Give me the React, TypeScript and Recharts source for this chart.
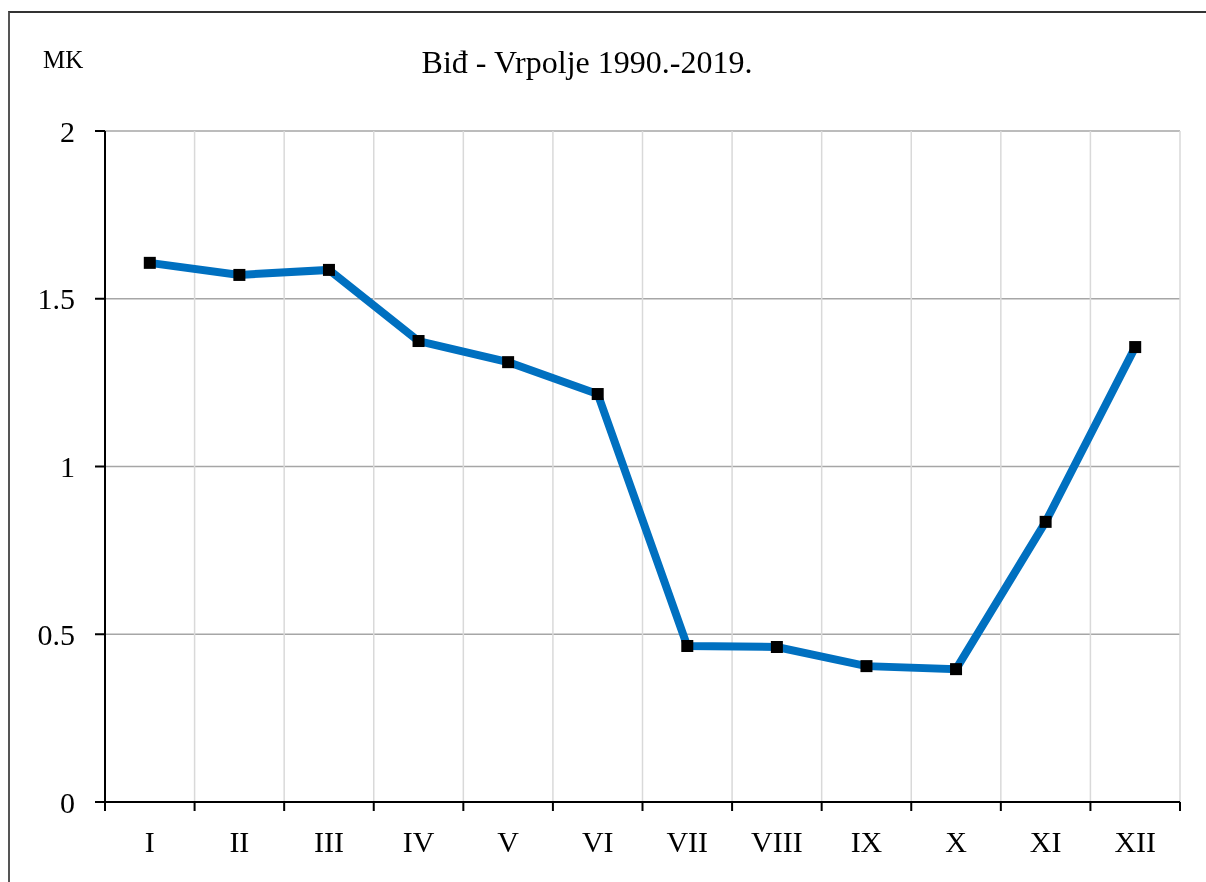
import { CartesianGrid, Line, LineChart, XAxis, YAxis } from "recharts";

const months = ["I", "II", "III", "IV", "V", "VI", "VII", "VIII", "IX", "X", "XI", "XII"];
const values = [1.607, 1.571, 1.586, 1.374, 1.311, 1.216, 0.465, 0.462, 0.405, 0.396, 0.835, 1.356];
const yTicks = [0, 0.5, 1, 1.5, 2];

// months sit in the middle of each band, boundaries at whole numbers
const data = months.map((m, i) => ({ x: i + 0.5, month: m, value: values[i] }));
const xTicks = Array.from({ length: 25 }, (_, i) => i / 2);

const font = '"Liberation Serif", "Times New Roman", serif';

const MonthTick = (props: any) => {
    const { x, y, payload } = props;
    const v = payload.value;
    if (Number.isInteger(v)) {
        return <line x1={x} x2={x} y1={y} y2={y + 9} stroke="#000" strokeWidth={2} />;
    }
    return (
        <text x={x} y={y + 50} textAnchor="middle" fontSize={30} fontFamily={font} fill="#000">
            {months[Math.floor(v)]}
        </text>
    );
};

const SquareDot = (props: any) => {
    const { cx, cy, index } = props;
    return <rect key={index} x={cx - 6} y={cy - 6} width={12} height={12} fill="#000" />;
};

export default function App() {
    return (
        <div>
            <div
                style={{
                    position: "fixed",
                    left: 8,
                    top: 11,
                    width: 1198,
                    height: 871,
                    borderLeft: "2px solid #555",
                    borderTop: "2px solid #333",
                }}
            />
            <div style={{ position: "fixed", left: 0, top: 0 }}>
                <LineChart
                    width={1206}
                    height={882}
                    data={data}
                    margin={{ top: 131, right: 26, bottom: 0, left: 0 }}
                >
                    <CartesianGrid vertical={false} stroke="#a6a6a6" strokeWidth={1.5} />
                    <CartesianGrid
                        horizontal={false}
                        stroke="#d9d9d9"
                        strokeWidth={1.5}
                        verticalCoordinatesGenerator={({ offset }: any) =>
                            Array.from({ length: 13 }, (_, i) => offset.left + (offset.width * i) / 12)
                        }
                    />
                    <XAxis
                        dataKey="x"
                        type="number"
                        domain={[0, 12]}
                        ticks={xTicks}
                        interval={0}
                        height={80}
                        tickSize={0}
                        tickMargin={0}
                        tickLine={false}
                        tick={<MonthTick />}
                        axisLine={{ stroke: "#000", strokeWidth: 2 }}
                    />
                    <YAxis
                        domain={[0, 2]}
                        ticks={yTicks}
                        width={105}
                        tickSize={10}
                        tickMargin={20}
                        tick={{ fontSize: 30, fontFamily: font, fill: "#000" }}
                        tickLine={{ stroke: "#000", strokeWidth: 2 }}
                        axisLine={{ stroke: "#000", strokeWidth: 2 }}
                    />
                    <Line
                        dataKey="value"
                        type="linear"
                        stroke="#0070C0"
                        strokeWidth={8}
                        dot={<SquareDot />}
                        activeDot={false}
                        isAnimationActive={false}
                    />
                </LineChart>
            </div>
            <svg
                width={1206}
                height={882}
                style={{ position: "fixed", left: 0, top: 0, pointerEvents: "none" }}
            >
                <text x={43} y={68} fontSize={25} fontFamily={font} fill="#000">
                    MK
                </text>
                <text x={587} y={73} textAnchor="middle" fontSize={32} fontFamily={font} fill="#000">
                    Biđ - Vrpolje 1990.-2019.
                </text>
            </svg>
        </div>
    );
}
